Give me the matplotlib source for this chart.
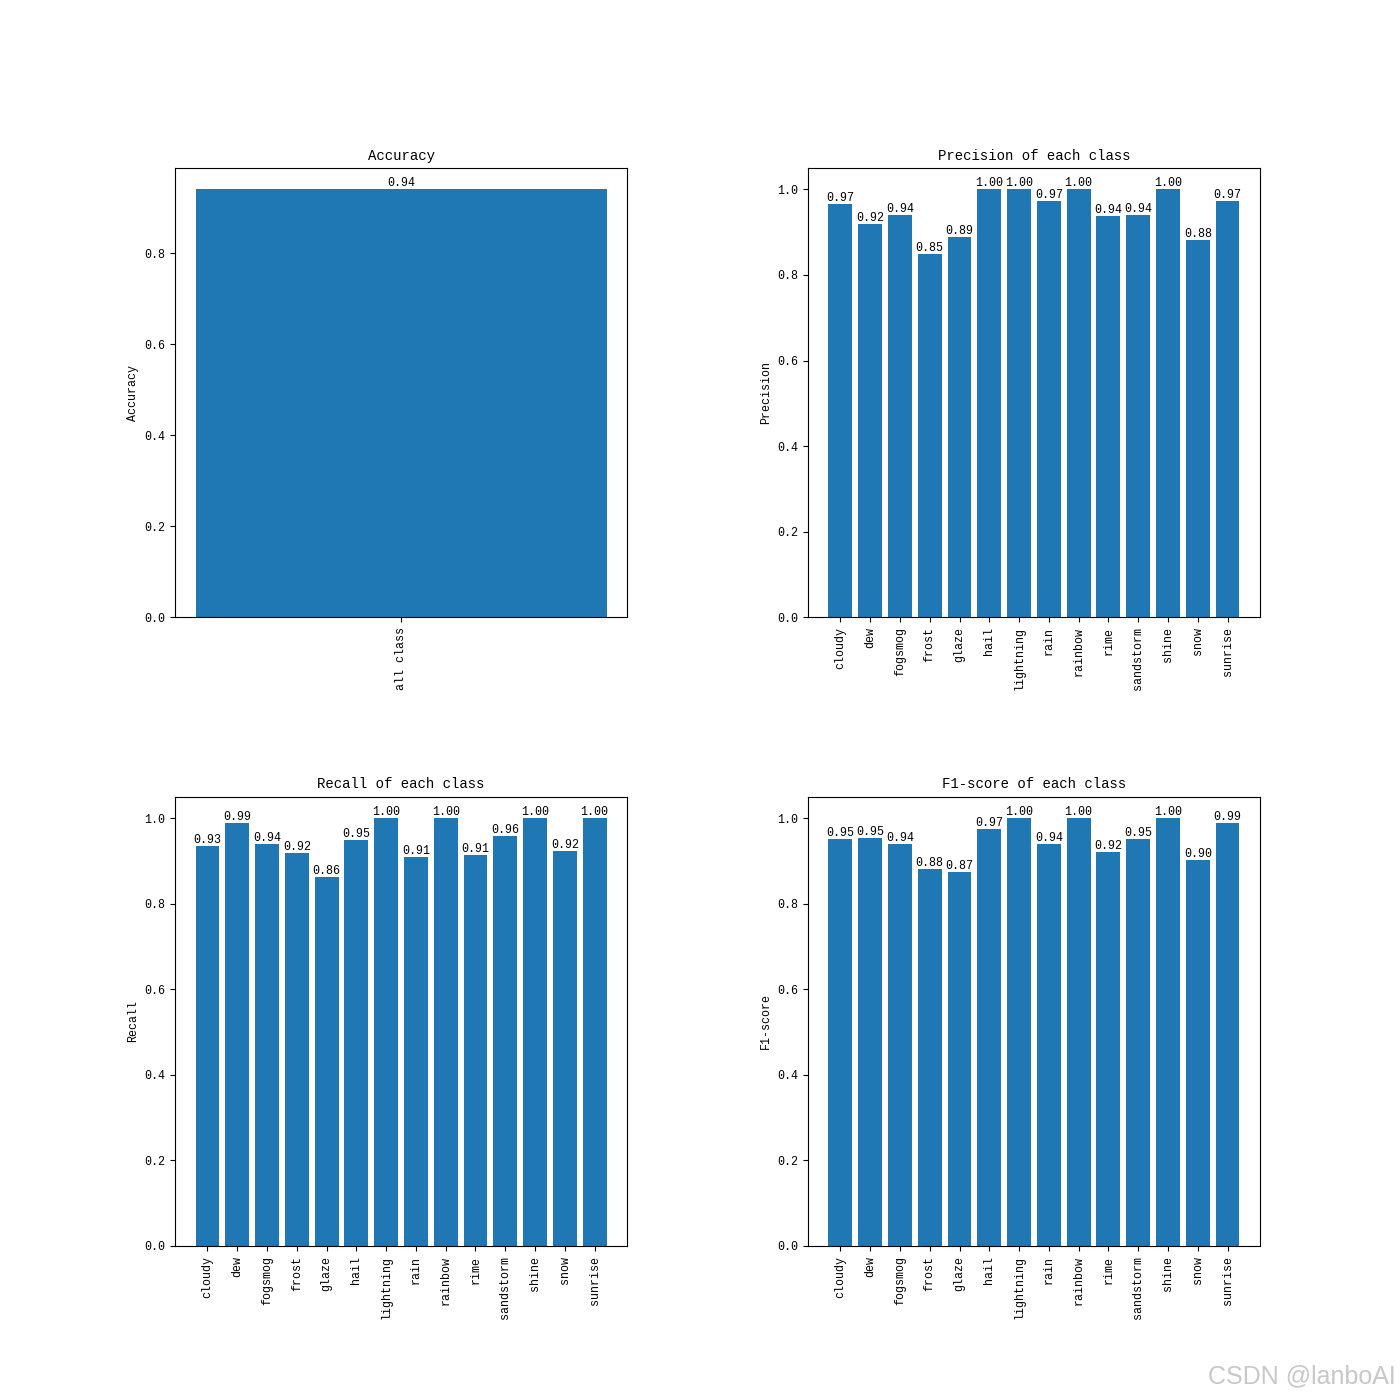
import matplotlib

matplotlib.use("Agg")
import matplotlib.pyplot as plt

# SimHei-like look: monospace half-width latin, so a mono font a bit smaller
plt.rcParams["font.family"] = ["Liberation Mono", "DejaVu Sans Mono"]
plt.rcParams["font.size"] = 8.4

classes = ["cloudy", "dew", "fogsmog", "frost", "glaze", "hail", "lightning",
           "rain", "rainbow", "rime", "sandstorm", "shine", "snow", "sunrise"]
accuracy = [0.941]
precision = [0.967, 0.920, 0.939, 0.848, 0.888, 1.0, 1.0,
             0.972, 1.0, 0.937, 0.941, 1.0, 0.881, 0.974]
recall = [0.934, 0.988, 0.939, 0.918, 0.862, 0.948, 1.0,
          0.909, 1.0, 0.913, 0.958, 1.0, 0.923, 1.0]
f1 = [0.951, 0.953, 0.939, 0.881, 0.874, 0.974, 1.0,
      0.939, 1.0, 0.922, 0.951, 1.0, 0.902, 0.988]


def bar_panel(ax, names, vals, title, ylabel):
    bars = ax.bar(names, vals)
    for b, v in zip(bars, vals):
        ax.text(b.get_x() + b.get_width() / 2, b.get_height(), "%.2f" % v,
                ha="center", va="bottom")
    ax.set_title(title)
    ax.set_ylabel(ylabel)
    ax.tick_params(axis="x", labelrotation=90)


fig, axs = plt.subplots(2, 2, figsize=(14, 14))
fig.subplots_adjust(wspace=0.4, hspace=0.4)
bar_panel(axs[0, 0], ["all class"], accuracy, "Accuracy", "Accuracy")
bar_panel(axs[0, 1], classes, precision, "Precision of each class", "Precision")
bar_panel(axs[1, 0], classes, recall, "Recall of each class", "Recall")
bar_panel(axs[1, 1], classes, f1, "F1-score of each class", "F1-score")

fig.text(0.997, 0.008, "CSDN @lanboAI", ha="right", va="bottom",
         fontsize=18, color="#c8c8c8", family="Liberation Sans")

fig.savefig("out.png", dpi=100)
